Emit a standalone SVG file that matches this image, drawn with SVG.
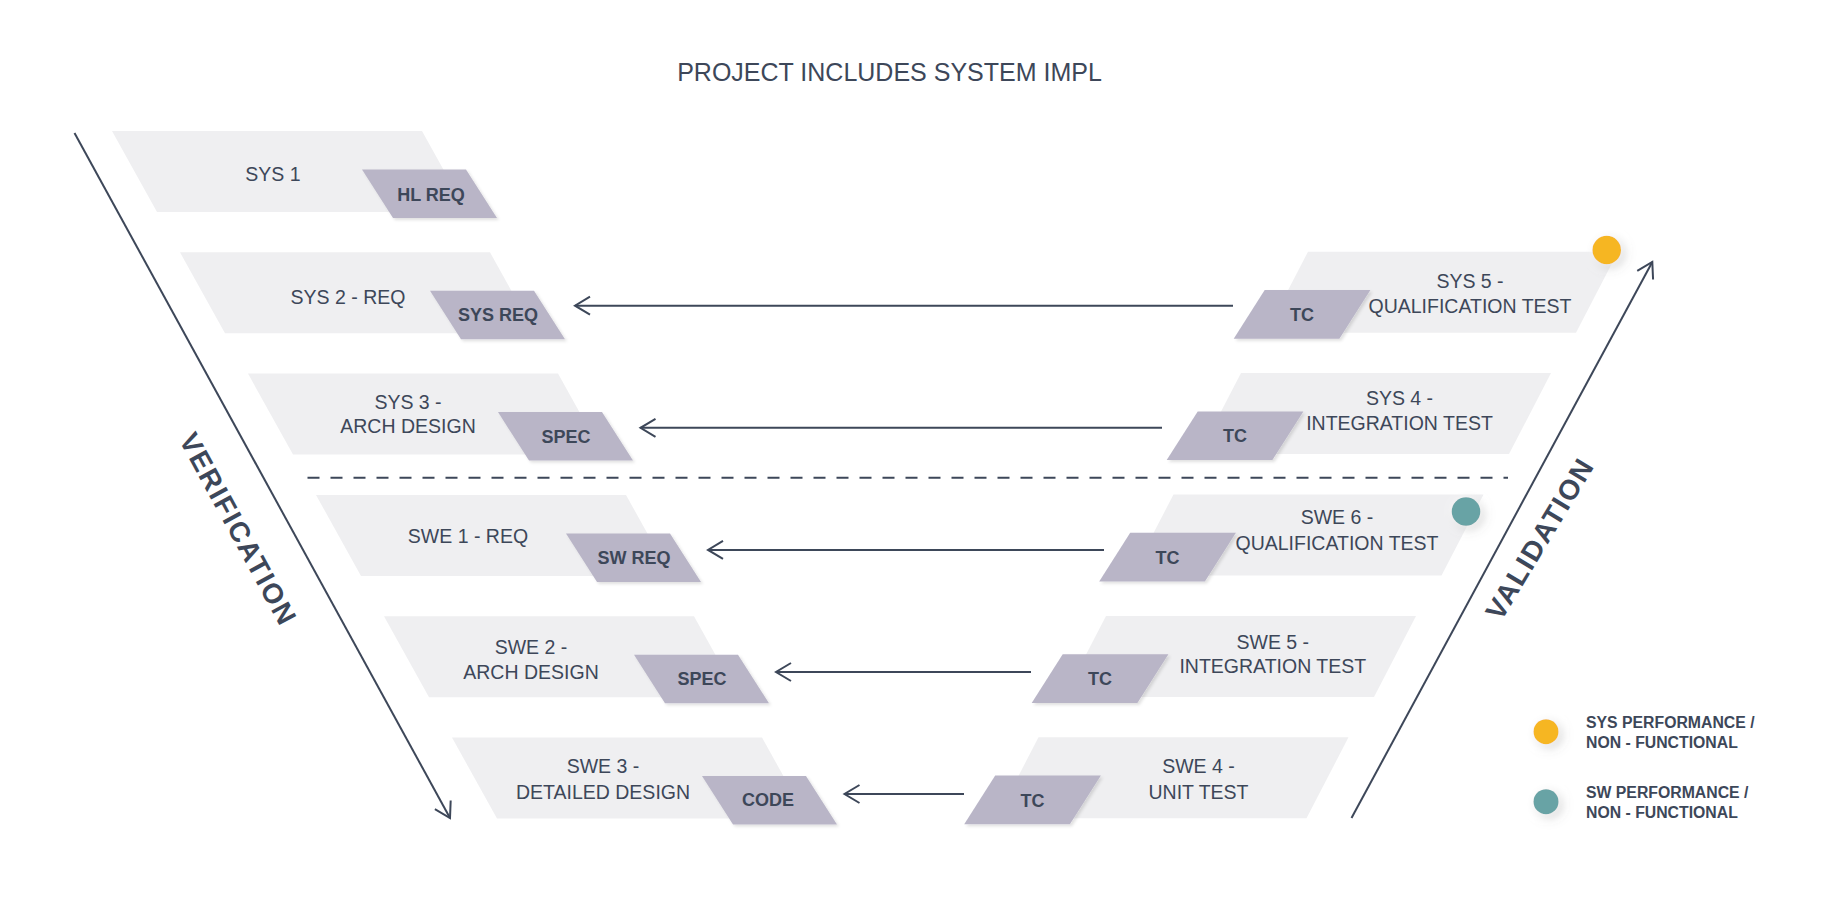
<svg xmlns="http://www.w3.org/2000/svg" width="1826" height="903" viewBox="0 0 1826 903">
  <defs>
    <style>
      .bg { fill: #ffffff; }
      .phase { fill: #efeff1; }
      .work { fill: #b9b5c7; filter: url(#softShadow); }
      .lbl { font-family: "Liberation Sans", Arial, sans-serif; font-size: 19.5px; fill: #3d4759; text-anchor: middle; }
      .wlbl { font-family: "Liberation Sans", Arial, sans-serif; font-size: 18px; font-weight: bold; fill: #3d4759; text-anchor: middle; }
      .title { font-family: "Liberation Sans", Arial, sans-serif; font-size: 25px; fill: #3d4759; text-anchor: middle; }
      .axis { font-family: "Liberation Sans", Arial, sans-serif; font-size: 28px; font-weight: bold; fill: #3d4759; text-anchor: middle; letter-spacing: 1.6px; }
      .legend { font-family: "Liberation Sans", Arial, sans-serif; font-size: 15.8px; font-weight: bold; fill: #3d4759; }
      .flow { stroke: #3d4759; stroke-width: 2; fill: none; marker-end: url(#chevron); }
      .split { stroke: #3d4759; stroke-width: 2; stroke-dasharray: 12 11; fill: none; }
      .sysDot { fill: #f6b622; filter: url(#dotShadow); }
      .swDot { fill: #67a3a5; filter: url(#dotShadow); }
    </style>
    <filter id="softShadow" x="-10%" y="-10%" width="130%" height="140%">
      <feDropShadow dx="2" dy="2" stdDeviation="1.5" flood-color="#000000" flood-opacity="0.12"/>
    </filter>
    <filter id="dotShadow" x="-80%" y="-80%" width="260%" height="260%">
      <feDropShadow dx="0" dy="0" stdDeviation="5" flood-color="#ffffff" flood-opacity="1"/>
      <feDropShadow dx="3" dy="3" stdDeviation="3" flood-color="#000000" flood-opacity="0.28"/>
    </filter>
    <marker id="chevron" markerUnits="userSpaceOnUse" viewBox="0 0 20 22" markerWidth="20" markerHeight="22" refX="17" refY="11" orient="auto">
      <path d="M2,2 L17,11 L2,20" fill="none" stroke="#3d4759" stroke-width="2"/>
    </marker>
    <!-- shared shapes: phase band and work-product tag, left and right variants -->
    <polygon id="bandL" points="0,0 310,0 355,81 45,81"/>
    <polygon id="tagL" points="250,38.5 354,38.5 385,87 281,87"/>
    <polygon id="bandR" points="0,0 310,0 268,81 -42,81"/>
    <polygon id="tagR" points="-43.3,38.3 62.4,38.3 31.4,87 -74.3,87"/>
  </defs>

  <rect class="bg" x="0" y="0" width="1826" height="903"/>

  <text id="title" class="title" x="889.5" y="81">PROJECT INCLUDES SYSTEM IMPL</text>

  <!-- left leg: system and software definition -->
  <g id="sys1" transform="translate(112,131)">
    <use href="#bandL" class="phase"/>
    <use href="#tagL" class="work"/>
    <text class="lbl" x="161" y="49.7">SYS 1</text>
    <text class="wlbl" x="319" y="69.5">HL REQ</text>
  </g>
  <g id="sys2" transform="translate(180,252.3)">
    <use href="#bandL" class="phase"/>
    <use href="#tagL" class="work"/>
    <text class="lbl" x="168" y="52">SYS 2 - REQ</text>
    <text class="wlbl" x="318" y="69">SYS REQ</text>
  </g>
  <g id="sys3" transform="translate(248,373.6)">
    <use href="#bandL" class="phase"/>
    <use href="#tagL" class="work"/>
    <text class="lbl" x="160" y="35">SYS 3 -</text>
    <text class="lbl" x="160" y="59.6">ARCH DESIGN</text>
    <text class="wlbl" x="318" y="69">SPEC</text>
  </g>
  <g id="swe1" transform="translate(316,494.9)">
    <use href="#bandL" class="phase"/>
    <use href="#tagL" class="work"/>
    <text class="lbl" x="152" y="48">SWE 1 - REQ</text>
    <text class="wlbl" x="318" y="69">SW REQ</text>
  </g>
  <g id="swe2" transform="translate(384,616.2)">
    <use href="#bandL" class="phase"/>
    <use href="#tagL" class="work"/>
    <text class="lbl" x="147" y="38.3">SWE 2 -</text>
    <text class="lbl" x="147" y="62.8">ARCH DESIGN</text>
    <text class="wlbl" x="318" y="69">SPEC</text>
  </g>
  <g id="swe3" transform="translate(452,737.5)">
    <use href="#bandL" class="phase"/>
    <use href="#tagL" class="work"/>
    <text class="lbl" x="151" y="35.8">SWE 3 -</text>
    <text class="lbl" x="151" y="61.2">DETAILED DESIGN</text>
    <text class="wlbl" x="316" y="68">CODE</text>
  </g>

  <!-- right leg: testing -->
  <g id="sys5" transform="translate(1308,251.7)">
    <use href="#bandR" class="phase"/>
    <use href="#tagR" class="work"/>
    <text class="lbl" x="162" y="36.6">SYS 5 -</text>
    <text class="lbl" x="162" y="61">QUALIFICATION TEST</text>
    <text class="wlbl" x="-6" y="69.3">TC</text>
    <circle class="sysDot" cx="298.7" cy="-1.7" r="14.3"/>
  </g>
  <g id="sys4" transform="translate(1241,373.1)">
    <use href="#bandR" class="phase"/>
    <use href="#tagR" class="work"/>
    <text class="lbl" x="158.5" y="32">SYS 4 -</text>
    <text class="lbl" x="158.5" y="57">INTEGRATION TEST</text>
    <text class="wlbl" x="-6" y="69.3">TC</text>
  </g>
  <g id="swe6" transform="translate(1173.5,494.5)">
    <use href="#bandR" class="phase"/>
    <use href="#tagR" class="work"/>
    <text class="lbl" x="163.5" y="29.5">SWE 6 -</text>
    <text class="lbl" x="163.5" y="55.2">QUALIFICATION TEST</text>
    <text class="wlbl" x="-6" y="69.3">TC</text>
    <circle class="swDot" cx="292.5" cy="17" r="14.3"/>
  </g>
  <g id="swe5" transform="translate(1106,615.9)">
    <use href="#bandR" class="phase"/>
    <use href="#tagR" class="work"/>
    <text class="lbl" x="166.8" y="32.7">SWE 5 -</text>
    <text class="lbl" x="166.8" y="57.1">INTEGRATION TEST</text>
    <text class="wlbl" x="-6" y="69.3">TC</text>
  </g>
  <g id="swe4" transform="translate(1038.5,737.3)">
    <use href="#bandR" class="phase"/>
    <use href="#tagR" class="work"/>
    <text class="lbl" x="160" y="36">SWE 4 -</text>
    <text class="lbl" x="160" y="61.4">UNIT TEST</text>
    <text class="wlbl" x="-6" y="69.3">TC</text>
  </g>

  <!-- connectors: traceability arrows, V axes and the system/software split -->
  <g id="connectors">
    <line class="flow" x1="1233" y1="305.7" x2="575" y2="305.7"/>
    <line class="flow" x1="1162" y1="427.8" x2="640.5" y2="427.8"/>
    <line class="flow" x1="1104" y1="549.9" x2="708" y2="549.9"/>
    <line class="flow" x1="1031" y1="672" x2="776" y2="672"/>
    <line class="flow" x1="964" y1="794" x2="844.5" y2="794"/>
    <line class="flow" x1="74.5" y1="133" x2="450" y2="818"/>
    <line class="flow" x1="1351.5" y1="818" x2="1652.3" y2="262"/>
    <line class="split" x1="307.5" y1="477.7" x2="1508" y2="477.7"/>
  </g>

  <g id="verification" transform="translate(238.5,529) rotate(61.5)">
    <text class="axis" x="0" y="10">VERIFICATION</text>
  </g>
  <g id="validation" transform="translate(1539.5,538.5) rotate(-59)">
    <text class="axis" x="0" y="10">VALIDATION</text>
  </g>

  <!-- legend -->
  <g id="legend-sys">
    <circle class="sysDot" cx="1546" cy="731.7" r="12.5"/>
    <text class="legend" x="1586" y="728.3">SYS PERFORMANCE /</text>
    <text class="legend" x="1586" y="748.3">NON - FUNCTIONAL</text>
  </g>
  <g id="legend-sw">
    <circle class="swDot" cx="1546" cy="801.7" r="12.5"/>
    <text class="legend" x="1586" y="798.3">SW PERFORMANCE /</text>
    <text class="legend" x="1586" y="818">NON - FUNCTIONAL</text>
  </g>
</svg>
